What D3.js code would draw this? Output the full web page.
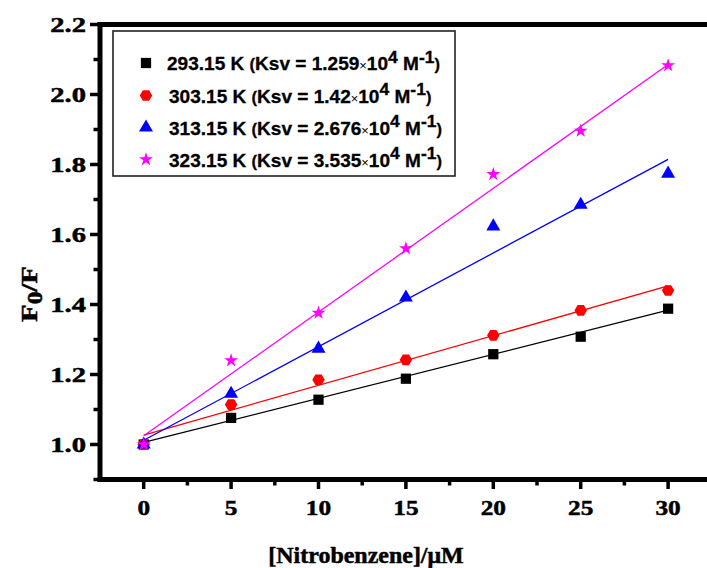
<!DOCTYPE html>
<html><head><meta charset="utf-8">
<script src="https://cdn.jsdelivr.net/npm/d3@7"></script>
<style>body{margin:0;background:#fff}svg{display:block}</style>
</head><body>
<svg id="c" width="707" height="568"></svg>
<script>
// ---- data ----
const concentrations = [0, 5, 10, 15, 20, 25, 30];
const temps = ["293.15", "303.15", "313.15", "323.15"];
const ksvMant = ["1.259", "1.42", "2.676", "3.535"]; // x10^4 M^-1
const s293 = [1.000, 1.076, 1.128, 1.188, 1.258, 1.308, 1.388];
const s303 = [1.000, 1.114, 1.185, 1.242, 1.312, 1.383, 1.440];
const s313 = [1.000, 1.145, 1.274, 1.420, 1.623, 1.685, 1.774];
const s323 = [1.000, 1.240, 1.376, 1.560, 1.772, 1.896, 2.083];
const fitSlopes = [0.01259, 0.01420, 0.02676, 0.03535]; // per µM
const fitIntercepts = [1.006, 1.027, 1.012, 1.025];
const xTicks = [0, 5, 10, 15, 20, 25, 30];
const yTicks = [1.0, 1.2, 1.4, 1.6, 1.8, 2.0, 2.2];

const seriesVals = [s293, s303, s313, s323];
const colors = ["#000000", "#ff0000", "#0000ff", "#ff00ff"];

const svg = d3.select("#c");
const x = d3.scaleLinear().domain([-2.5, 32.5]).range([100, 711.8]);
const y = d3.scaleLinear().domain([0.9, 2.2]).range([479.5, 24.5]);

// hexagon symbol
const hexagon = {
  draw(ctx, size) {
    const r = Math.sqrt(size / (1.5 * Math.sqrt(3)));
    for (let i = 0; i < 6; i++) {
      const a = Math.PI / 3 * i;
      const px = r * Math.cos(a), py = r * Math.sin(a);
      if (i === 0) ctx.moveTo(px, py); else ctx.lineTo(px, py);
    }
    ctx.closePath();
  }
};
const symTypes = [d3.symbolSquare, hexagon, d3.symbolTriangle, d3.symbolStar];
const symSizes = [105, 100, 85, 60];
const symFn = i => d3.symbol().type(symTypes[i]).size(symSizes[i])();

// fit lines
const lineG = svg.append("g");
fitSlopes.forEach((m, i) => {
  const xs = [concentrations[0], concentrations[concentrations.length - 1]];
  lineG.append("line")
    .attr("x1", x(xs[0])).attr("y1", y(fitIntercepts[i] + m * xs[0]))
    .attr("x2", x(xs[1])).attr("y2", y(fitIntercepts[i] + m * xs[1]))
    .attr("stroke", colors[i]).attr("stroke-width", 1.3);
});
// points
seriesVals.forEach((vals, i) => {
  svg.append("g").selectAll("path").data(vals).join("path")
    .attr("d", symFn(i))
    .attr("transform", (d, j) => `translate(${x(concentrations[j])},${y(d)})`)
    .attr("fill", colors[i]);
});

// axes (drawn as filled rects for solid thickness)
const fontSerif = "'Liberation Serif','Times New Roman',serif";
const axG = svg.append("g").attr("fill", "#000");
const x0 = x(-2.5), yb = y(0.9), yt0 = y(2.2);
const aw = 5;
axG.append("rect").attr("x", x0 - aw / 2).attr("y", yb - aw / 2).attr("width", 707 - x0 + 3).attr("height", aw);
axG.append("rect").attr("x", x0 - aw / 2).attr("y", yt0 - aw / 2).attr("width", 707 - x0 + 3).attr("height", aw);
axG.append("rect").attr("x", x0 - aw / 2).attr("y", yt0 - aw / 2).attr("width", aw).attr("height", yb - yt0 + aw);

// x ticks
const xMinor = d3.range(-2.5, 32.6, 2.5).filter(v => v > -2.5 && v < 32 && !xTicks.includes(v));
axG.selectAll("rect.xt").data(xTicks).join("rect").attr("class", "xt")
  .attr("x", d => x(d) - 1.75).attr("y", yb).attr("width", 3.5).attr("height", 9.5);
axG.selectAll("rect.xm").data(xMinor).join("rect").attr("class", "xm")
  .attr("x", d => x(d) - 1.75).attr("y", yb).attr("width", 3.5).attr("height", 6);
axG.selectAll("text.xl").data(xTicks).join("text").attr("class", "xl")
  .attr("transform", d => `translate(${x(d)},515) scale(1.15,1)`)
  .attr("text-anchor", "middle").attr("font-family", fontSerif).attr("font-weight", "bold")
  .attr("stroke", "#000").attr("stroke-width", 0.5)
  .attr("font-size", 22).text(d => d);

// y ticks
const yMinor = d3.range(0.9, 2.25, 0.1).map(v => +v.toFixed(1)).filter(v => !yTicks.includes(v));
axG.selectAll("rect.yt").data(yTicks).join("rect").attr("class", "yt")
  .attr("x", x0 - 10).attr("y", d => y(d) - 1.75).attr("width", 10).attr("height", 3.5);
axG.selectAll("rect.ym").data(yMinor).join("rect").attr("class", "ym")
  .attr("x", x0 - 6.5).attr("y", d => y(d) - 1.75).attr("width", 6.5).attr("height", 3.5);
axG.selectAll("text.yl").data(yTicks).join("text").attr("class", "yl")
  .attr("transform", d => `translate(86,${y(d) + 7.5}) scale(1.3,1)`)
  .attr("text-anchor", "end").attr("font-family", fontSerif).attr("font-weight", "bold")
  .attr("stroke", "#000").attr("stroke-width", 0.5)
  .attr("font-size", 22).text(d => d.toFixed(1));

// axis titles
svg.append("text").attr("transform", "translate(366,563) scale(1.02,1)")
  .attr("text-anchor", "middle").attr("font-family", fontSerif).attr("font-weight", "bold")
  .attr("stroke", "#000").attr("stroke-width", 0.5)
  .attr("font-size", 23.5).text("[Nitrobenzene]/\u03bcM");
const ytl = svg.append("text").attr("transform", "translate(37,294) rotate(-90) scale(1.2,1)")
  .attr("text-anchor", "middle").attr("font-family", fontSerif).attr("font-weight", "bold")
  .attr("stroke", "#000").attr("stroke-width", 0.5)
  .attr("font-size", 24);
ytl.append("tspan").text("F");
ytl.append("tspan").attr("dy", 5).attr("font-size", 21).text("0");
ytl.append("tspan").attr("dy", -5).text("/F");

// legend
const leg = svg.append("g");
leg.append("rect").attr("x", 113).attr("y", 31).attr("width", 342).attr("height", 145)
  .attr("fill", "#fff").attr("stroke", "#222").attr("stroke-width", 1.6);
const fontSans = "'Liberation Sans',Arial,sans-serif";
const rowY = [63, 95.5, 127.5, 159.5];
temps.forEach((t, i) => {
  leg.append("path").attr("d", symFn(i))
    .attr("transform", `translate(146,${rowY[i]})`).attr("fill", colors[i]);
  const tx = leg.append("text")
    .attr("transform", `translate(${i === 0 ? 167 : 169},${rowY[i] + 7}) scale(1.03,1)`)
    .attr("font-family", fontSans).attr("font-weight", "bold").attr("font-size", 18.5)
    .attr("stroke", "#000").attr("stroke-width", 0.3);
  tx.append("tspan").text(`${t} K `);
  tx.append("tspan").attr("font-size", 16).text("(");
  tx.append("tspan").text(`Ksv = ${ksvMant[i]}`);
  tx.append("tspan").attr("font-size", 12.5).attr("font-weight", "normal").attr("stroke-width", 0).text("\u00d7");
  tx.append("tspan").text("10");
  tx.append("tspan").attr("dy", -7.5).attr("font-size", 17).text("4");
  tx.append("tspan").attr("dy", 7.5).text(" M");
  tx.append("tspan").attr("dy", -7.5).attr("font-size", 17).text("-1");
  tx.append("tspan").attr("dy", 7.5).attr("font-size", 16).text(")");
});
</script>
</body></html>
